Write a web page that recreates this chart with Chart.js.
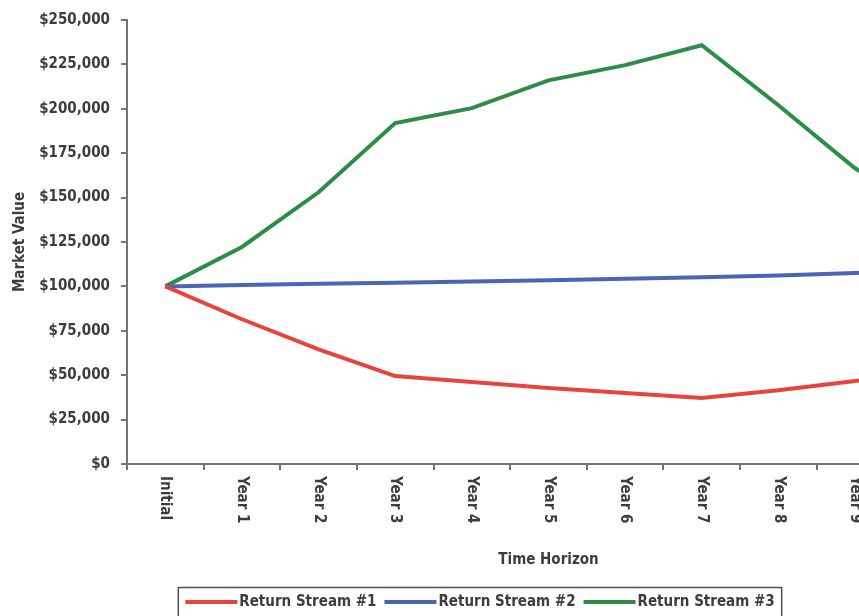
<!DOCTYPE html>
<html>
<head>
<meta charset="utf-8">
<script src="https://cdn.jsdelivr.net/npm/chart.js@4.4.1/dist/chart.umd.min.js"></script>
<style>
  html, body { margin: 0; padding: 0; background: #fff; overflow: hidden; }
  #wrap { width: 1000px; height: 616px; }
</style>
</head>
<body>
<div id="wrap"><canvas id="chart" width="1000" height="616"></canvas></div>
<script>
// categories and series (Year 10 lies outside the visible area)
const categories = ["Initial", "Year 1", "Year 2", "Year 3", "Year 4", "Year 5",
                    "Year 6", "Year 7", "Year 8", "Year 9", "Year 10"];
const seriesNames = ["Return Stream #1", "Return Stream #2", "Return Stream #3"];
const stream1 = [100000, 81500, 64500, 49500, 46200, 42800, 40000, 37200, 41500, 46700, 52000];
const stream2 = [100000, 100800, 101500, 102100, 102800, 103500, 104300, 105200, 106200, 107600, 109000];
const stream3 = [100000, 122200, 153000, 192000, 200400, 216000, 224600, 235800, 202000, 166500, 140000];
const yTicks = [0, 25000, 50000, 75000, 100000, 125000, 150000, 175000, 200000, 225000, 250000];

const FONT = '"Liberation Sans Narrow", "Arial Narrow", "DejaVu Sans Condensed", sans-serif';
const TEXT = "#3d3d3d";
const AXIS = "#737373";
const colors = ["#e8443f", "#4d63b6", "#2f8c48"];

const money = (v) => "$" + v.toLocaleString("en-US");

// x labels in the picture read top to bottom, so draw them ourselves
const verticalLabels = {
  id: "verticalLabels",
  afterDraw(chart) {
    const x = chart.scales.x;
    const ctx = chart.ctx;
    ctx.save();
    ctx.font = "bold 15px " + FONT;
    ctx.fillStyle = TEXT;
    ctx.textAlign = "left";
    ctx.textBaseline = "middle";
    categories.forEach((label, i) => {
      ctx.save();
      ctx.translate(x.getPixelForValue(i), x.top + 12);
      ctx.rotate(Math.PI / 2);
      ctx.fillText(label, 0, 0);
      ctx.restore();
    });
    ctx.restore();
  }
};

// boxed legend under the axis title
const boxLegend = {
  id: "boxLegend",
  afterDraw(chart) {
    const ctx = chart.ctx;
    ctx.save();
    ctx.font = "bold 15px " + FONT;
    const lineLen = 52, gap = 2, itemGap = 8, pad = 7;
    const widths = seriesNames.map((n) => ctx.measureText(n).width);
    const total = widths.reduce((a, w) => a + lineLen + gap + w, 0) + itemGap * (seriesNames.length - 1);
    let x = 480 - total / 2;
    const y = 602;
    ctx.strokeStyle = "#505050";
    ctx.lineWidth = 1.5;
    ctx.strokeRect(x - pad, 587.5, total + pad * 2, 40);
    ctx.textAlign = "left";
    ctx.textBaseline = "middle";
    seriesNames.forEach((name, i) => {
      ctx.strokeStyle = colors[i];
      ctx.lineWidth = 4;
      ctx.beginPath();
      ctx.moveTo(x, y);
      ctx.lineTo(x + lineLen, y);
      ctx.stroke();
      x += lineLen + gap;
      ctx.fillStyle = TEXT;
      ctx.fillText(name, x, y);
      x += widths[i] + itemGap;
    });
    ctx.restore();
  }
};

const seriesData = [stream1, stream2, stream3];

new Chart(document.getElementById("chart"), {
  type: "line",
  data: {
    labels: categories,
    datasets: seriesNames.map((name, i) => ({
      label: name,
      data: seriesData[i],
      borderColor: colors[i],
      backgroundColor: colors[i],
      borderWidth: 4,
      pointRadius: 0,
      tension: 0,
    })),
  },
  options: {
    responsive: false,
    animation: false,
    layout: { padding: { left: 0, right: 30, top: 20, bottom: 36 } },
    plugins: {
      legend: { display: false },
      tooltip: { enabled: false },
    },
    scales: {
      x: {
        offset: true,
        grid: { drawOnChartArea: false, offset: true, tickLength: 6, color: AXIS, lineWidth: 2 },
        border: { display: true, color: AXIS, width: 2 },
        ticks: { display: false },
        title: {
          display: true,
          text: "Time Horizon",
          color: TEXT,
          font: { family: FONT, size: 15, weight: "bold" },
          padding: { top: 0, bottom: 11 },
        },
        afterFit: (scale) => { scale.height = 116; },
      },
      y: {
        min: 0,
        max: 250000,
        afterBuildTicks: (scale) => { scale.ticks = yTicks.map((v) => ({ value: v })); },
        grid: { drawOnChartArea: false, tickLength: 6, color: AXIS, lineWidth: 2 },
        border: { display: true, color: AXIS, width: 2 },
        ticks: {
          color: TEXT,
          padding: 11,
          font: { family: FONT, size: 15, weight: "bold" },
          callback: (v) => money(v),
        },
        title: {
          display: true,
          text: "Market Value",
          color: TEXT,
          font: { family: FONT, size: 15, weight: "bold" },
          padding: { top: 11, bottom: 0 },
        },
        afterFit: (scale) => { scale.width = 127; },
      },
    },
  },
  plugins: [verticalLabels, boxLegend],
});
</script>
</body>
</html>
